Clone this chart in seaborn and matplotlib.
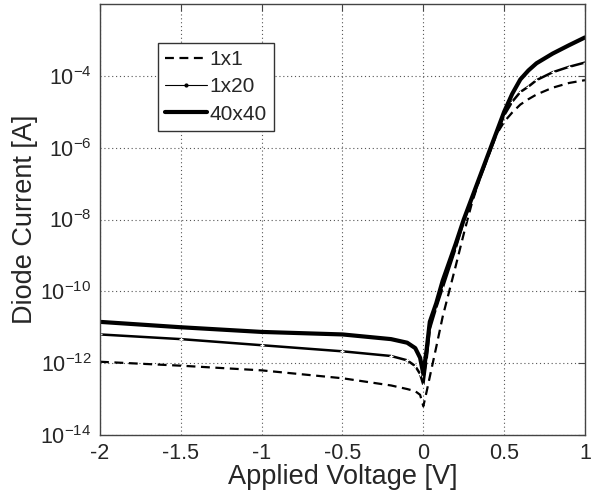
import numpy as np
import pandas as pd
import seaborn as sns
from matplotlib import pyplot as plt
from matplotlib.lines import Line2D

# voltage sample points [V]
volts = [-2.0, -1.5, -1.0, -0.5, -0.2, -0.1, -0.05, -0.02, 0.0, 0.02, 0.04, 0.08, 0.12,
         0.2, 0.25, 0.3, 0.35, 0.4, 0.45, 0.5, 0.55, 0.6, 0.65, 0.7, 0.8, 0.9, 1.0]

# log10 of diode current [A]
log_1x1 = [-11.96, -12.07, -12.20, -12.42, -12.62, -12.72, -12.78, -12.88, -13.20, -12.80, -12.38, -11.55, -10.70,
           -9.30, -8.40, -7.55, -6.85, -6.25, -5.65, -5.28, -5.02, -4.80, -4.65, -4.52, -4.33, -4.20, -4.12]
log_1x20 = [-11.20, -11.33, -11.50, -11.67, -11.80, -11.92, -12.08, -12.30, -12.60, -11.90, -11.05, -10.45, -9.90,
            -8.80, -8.05, -7.45, -6.85, -6.25, -5.65, -5.10, -4.72, -4.45, -4.30, -4.12, -3.90, -3.75, -3.63]
log_40x40 = [-10.85, -11.00, -11.13, -11.20, -11.33, -11.43, -11.58, -11.85, -12.30, -11.64, -10.85, -10.33, -9.70,
             -8.68, -8.00, -7.40, -6.80, -6.20, -5.60, -5.00, -4.50, -4.10, -3.85, -3.65, -3.38, -3.15, -2.93]

labels = ['1x1', '1x20', '40x40']
y_ticks = [1e-14, 1e-12, 1e-10, 1e-8, 1e-6, 1e-4]
x_ticks = [-2, -1.5, -1, -0.5, 0, 0.5, 1]

df = pd.DataFrame({
    'V': volts * 3,
    'I': 10.0 ** np.array(log_1x1 + log_1x20 + log_40x40),
    'size': np.repeat(labels, len(volts)),
})

sns.set_style('white')
plt.rcParams['font.family'] = ['Liberation Sans', 'DejaVu Sans']
plt.rcParams['mathtext.default'] = 'regular'

fig = plt.figure(figsize=(5.93, 4.95), dpi=100)
ax = fig.add_axes([0.1686, 0.1212, 0.8179, 0.8707])

sns.lineplot(data=df[df['size'] == '1x1'], x='V', y='I', color='black', lw=1.6,
             linestyle=(0, (4, 2.5)), ax=ax, legend=False)
sns.lineplot(data=df[df['size'] == '1x20'], x='V', y='I', color='black', lw=1.8,
             marker='+', markersize=3.5, mew=0.9, ax=ax, legend=False)
sns.lineplot(data=df[df['size'] == '40x40'], x='V', y='I', color='black', lw=3,
             ax=ax, legend=False)

ax.set_yscale('log')
ax.set_xlim(-2, 1)
ax.set_ylim(1e-14, 1e-2)
ax.set_yticks(y_ticks)
ax.set_yticks([], minor=True)
ax.set_xticks(x_ticks)
ax.set_xticklabels(['-2', '-1.5', '-1', '-0.5', '0', '0.5', '1'])
ax.set_yticklabels(['$10^{%d}$' % int(np.log10(t)) for t in y_ticks])

ax.grid(True, which='major', linestyle=(0, (1, 2.5)), color='#555555', lw=0.8)
ax.tick_params(direction='in', length=5, top=True, right=True, labelsize=15.5,
               color='#444444', pad=6)
for s in ax.spines.values():
    s.set_color('#444444')
    s.set_linewidth(1.0)

ax.set_xlabel('Applied Voltage [V]', fontsize=19.5, labelpad=0)
ax.set_ylabel('Diode Current [A]', fontsize=19.5, labelpad=2)

handles = [Line2D([], [], color='black', lw=1.6, linestyle=(0, (4, 2.5))),
           Line2D([], [], color='black', lw=0.8, marker='.', markersize=4),
           Line2D([], [], color='black', lw=3)]
leg = ax.legend(handles, labels, loc='upper left', bbox_to_anchor=(0.12, 0.91),
                fontsize=15, frameon=True, fancybox=False, framealpha=1,
                edgecolor='#333333', borderpad=0.35, labelspacing=0.4,
                handlelength=2.0, handletextpad=0.1, borderaxespad=0)
leg.get_frame().set_linewidth(1.0)

fig.savefig('out.png', dpi=100)
